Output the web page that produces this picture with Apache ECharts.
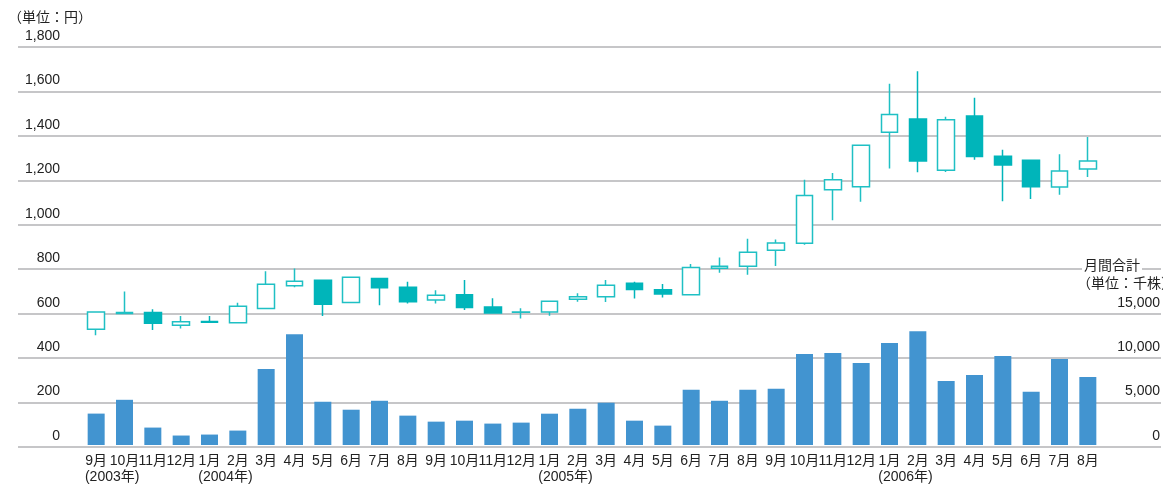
<!DOCTYPE html>
<html>
<head>
<meta charset="utf-8">
<title>株価推移</title>
<script src="https://cdn.jsdelivr.net/npm/echarts/dist/echarts.min.js"></script>
<style>
  html, body { margin: 0; padding: 0; background: #fff; }
  #main { width: 1163px; height: 484px; }
</style>
</head>
<body>
<div id="main"></div>
<script>
// 月ラベル（2003年9月～2006年8月）
var months = ['9月','10月','11月','12月',
  '1月','2月','3月','4月','5月','6月','7月','8月','9月','10月','11月','12月',
  '1月','2月','3月','4月','5月','6月','7月','8月','9月','10月','11月','12月',
  '1月','2月','3月','4月','5月','6月','7月','8月'];
var yearNotes = {0: '(2003年)', 4: '(2004年)', 16: '(2005年)', 28: '(2006年)'};

// 株価 [始値, 終値, 安値, 高値]（円）
var prices = [
  [524, 602, 496, 605], [595, 599, 593, 694], [599, 551, 520, 614], [542, 557, 527, 583],
  [558, 555, 553, 583], [553, 628, 551, 643], [617, 727, 615, 786], [720, 741, 714, 798],
  [745, 637, 583, 748], [644, 759, 643, 761], [753, 711, 632, 755], [714, 648, 640, 738],
  [656, 677, 640, 700], [679, 622, 610, 746], [624, 597, 595, 664], [600, 602, 572, 619],
  [602, 650, 584, 651], [659, 670, 648, 686], [671, 722, 647, 746], [732, 703, 662, 738],
  [702, 683, 667, 728], [679, 803, 676, 819], [799, 808, 779, 848], [808, 872, 770, 933],
  [881, 914, 810, 929], [912, 1128, 906, 1200], [1154, 1200, 1016, 1230], [1168, 1356, 1100, 1358],
  [1414, 1495, 1251, 1634], [1474, 1284, 1233, 1690], [1243, 1471, 1235, 1484], [1488, 1305, 1290, 1570],
  [1306, 1266, 1102, 1335], [1288, 1168, 1113, 1290], [1167, 1239, 1132, 1315], [1248, 1284, 1212, 1393]
];

// 月間出来高（千株）
var volumes = [3550, 5110, 1970, 1070, 1180, 1630, 8600, 12530, 4890, 3990, 5000, 3320,
  2640, 2750, 2420, 2530, 3540, 4100, 4780, 2750, 2190, 6240, 5000, 6240,
  6350, 10280, 10390, 9270, 11520, 12870, 7250, 7920, 10060, 6010, 9720, 7700];

var font = '"Liberation Sans", "Noto Sans CJK JP", sans-serif';
var teal = '#00b5ba';

function fmt(v) {
  return String(v).replace(/\B(?=(\d{3})+(?!\d))/g, ',');
}

var myChart = echarts.init(document.getElementById('main'));
var option = {
  animation: false,
  backgroundColor: '#fff',
  textStyle: { fontFamily: font },
  grid: [
    { left: 18, right: 0, top: 47, bottom: 37 },
    { left: 82, width: 1020, top: 47, bottom: 37 }
  ],
  graphic: [
    { type: 'text', left: 8, top: 11,
      style: { text: '（単位：円）', font: '14px ' + font, fill: '#222' } },
    { type: 'text', left: 1082, top: 258, z: 100,
      style: { text: '月間合計', font: '14px ' + font, fill: '#222',
               backgroundColor: '#fff', padding: [1, 2, 1, 2] } },
    { type: 'text', left: 1077, top: 277, z: 100,
      style: { text: '（単位：千株）', font: '14px ' + font, fill: '#222' } }
  ],
  xAxis: [
    { gridIndex: 0, type: 'value', min: 0, max: 1, show: false },
    {
      gridIndex: 1, type: 'category', data: months,
      axisLine: { show: false }, axisTick: { show: false },
      axisLabel: {
        interval: 0, margin: 8,
        formatter: function (v, i) {
          var s = '{m|' + v + '}';
          if (yearNotes[i]) s += '\n{y|' + yearNotes[i] + '}';
          return s;
        },
        rich: {
          m: { fontSize: 14, fontFamily: font, color: '#222', lineHeight: 16 },
          y: { fontSize: 14, fontFamily: font, color: '#222', lineHeight: 16, padding: [0, 0, 0, 32] }
        }
      }
    }
  ],
  yAxis: [
    {
      gridIndex: 0, type: 'value', min: 0, max: 1800, interval: 200, position: 'left',
      axisLine: { show: false }, axisTick: { show: false },
      splitLine: { lineStyle: { color: '#c6c6c8', width: 2 } },
      axisLabel: {
        inside: true, margin: 42, align: 'right', verticalAlign: 'bottom', lineHeight: 22,
        fontSize: 14, color: '#222', fontFamily: font,
        formatter: function (v) { return fmt(v); }
      }
    },
    {
      gridIndex: 0, type: 'value', min: 0, max: 45000, interval: 5000, position: 'right',
      axisLine: { show: false }, axisTick: { show: false }, splitLine: { show: false },
      axisLabel: {
        inside: true, margin: 1, align: 'right', verticalAlign: 'bottom', lineHeight: 22,
        fontSize: 14, color: '#222', fontFamily: font,
        formatter: function (v) { return v <= 15000 ? fmt(v) : ''; }
      }
    },
    { gridIndex: 1, type: 'value', min: 0, max: 1800, show: false },
    { gridIndex: 1, type: 'value', min: 0, max: 45000, show: false }
  ],
  series: [
    {
      name: '出来高', type: 'bar', xAxisIndex: 1, yAxisIndex: 3,
      data: volumes, barWidth: 17,
      itemStyle: { color: '#4294d0' }
    },
    {
      name: '株価', type: 'candlestick', xAxisIndex: 1, yAxisIndex: 2,
      data: prices, barWidth: 17,
      itemStyle: {
        color: '#fff', color0: teal,
        borderColor: '#1fc0c4', borderColor0: teal, borderWidth: 1.5
      }
    }
  ]
};
myChart.setOption(option);
</script>
</body>
</html>
